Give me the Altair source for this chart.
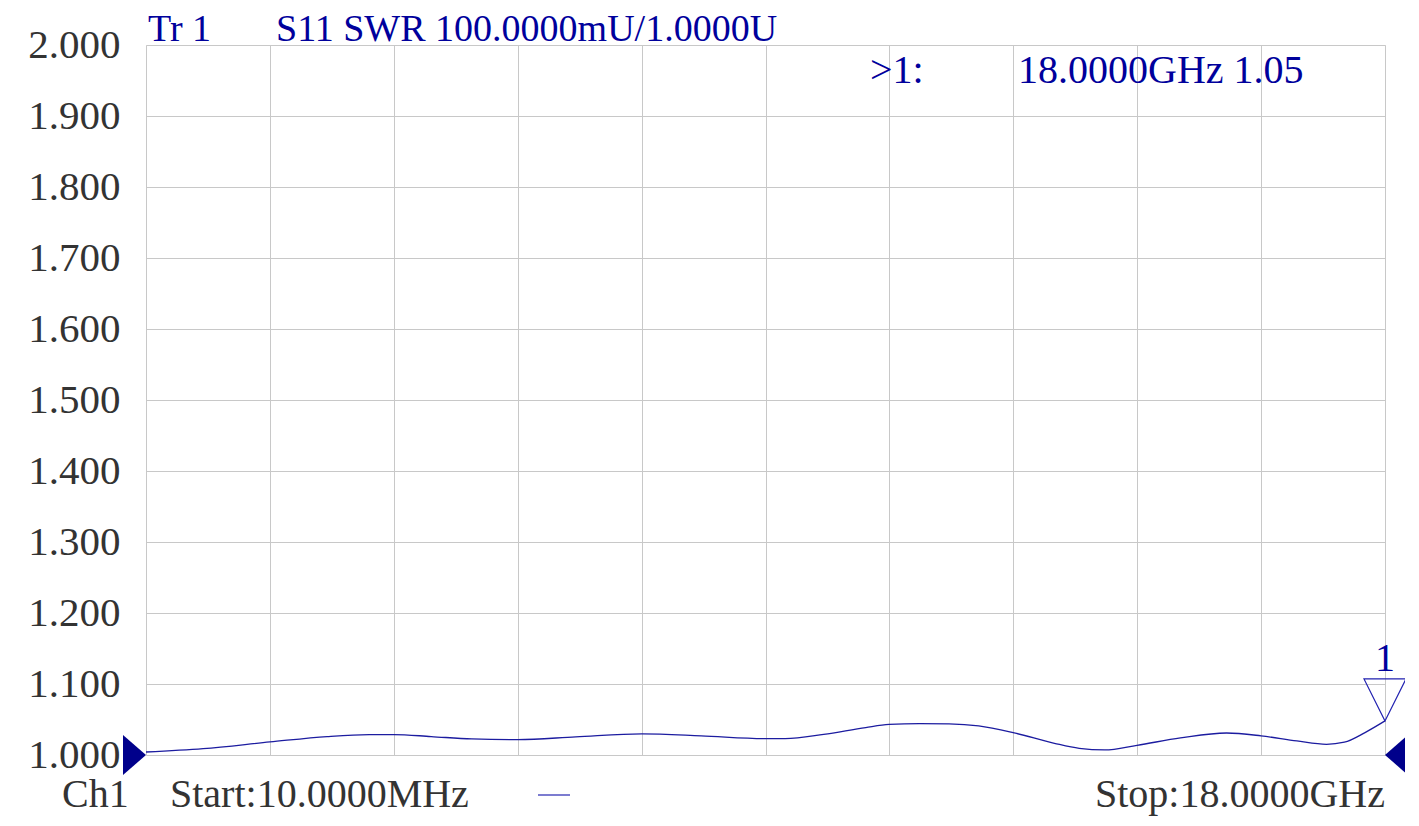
import altair as alt
import pandas as pd

# Trace data (frequency in GHz, SWR)
freq_ghz = [0.01, 0.84, 1.81, 2.64, 3.25, 3.61, 4.15, 4.74, 5.41, 6.25, 7.21, 8.07,
            9.00, 9.29, 9.85, 10.46, 10.80, 11.24, 11.67, 12.10, 12.60, 13.20, 13.56,
            13.93, 14.40, 15.03, 15.70, 16.20, 16.72, 17.15, 17.41, 17.71, 18.00]
swr = [1.0042, 1.0090, 1.0184, 1.0260, 1.0288, 1.0288, 1.0260, 1.0226, 1.0217, 1.0255,
       1.0297, 1.0270, 1.0231, 1.0230, 1.0290, 1.0387, 1.0430, 1.0443, 1.0439, 1.0410,
       1.0316, 1.0165, 1.0094, 1.0071, 1.0137, 1.0240, 1.0310, 1.0270, 1.0198, 1.0151,
       1.0180, 1.0316, 1.0480]

marker_freq = [18.0]
marker_swr = [1.048]
marker_label = ["1"]

ref_pos = [0.01, 18.0]
ref_val = [1.0, 1.0]

y_ticks = [1.0, 1.1, 1.2, 1.3, 1.4, 1.5, 1.6, 1.7, 1.8, 1.9, 2.0]
f_start, f_stop = 0.01, 18.0
x_grid = [f_start + k * (f_stop - f_start) / 10 for k in range(11)]

FONT = "Liberation Serif"
BLUE = "#00009c"
TRACE = "#1c1ca0"
GRAY = "#333333"
W, H = 1239, 710

df = pd.DataFrame({"f": freq_ghz, "swr": swr})
xs = alt.Scale(domain=[f_start, f_stop], nice=False, zero=False)
ys = alt.Scale(domain=[1.0, 2.0], nice=False, zero=False)

x_enc = alt.X("f:Q", scale=xs, axis=alt.Axis(values=x_grid, labels=False, ticks=False,
                                               domain=False, grid=True, gridColor="#c8c8c8",
                                               title=None))
y_enc = alt.Y("swr:Q", scale=ys, axis=alt.Axis(values=y_ticks, format=".3f", ticks=False,
                                                 domain=False, grid=True, gridColor="#c8c8c8",
                                                 labelFont=FONT, labelFontSize=41,
                                                 labelColor=GRAY, labelPadding=26,
                                                 labelBaseline="middle", title=None))

trace = alt.Chart(df).mark_line(color=TRACE, strokeWidth=1.3, interpolate="monotone").encode(
    x=x_enc, y=y_enc)

ref_df = pd.DataFrame({"f": ref_pos, "swr": ref_val, "side": ["L", "R"]})
ref_left = alt.Chart(ref_df[ref_df.side == "L"]).mark_point(
    shape="M0,0L-1,-0.87L-1,0.87Z", size=2116, filled=True, color="#00008b", opacity=1,
    strokeWidth=0).encode(x=alt.X("f:Q", scale=xs), y=alt.Y("swr:Q", scale=ys))
ref_right = alt.Chart(ref_df[ref_df.side == "R"]).mark_point(
    shape="M0,0L1,-0.87L1,0.87Z", size=2116, filled=True, color="#00008b", opacity=1,
    strokeWidth=0).encode(x=alt.X("f:Q", scale=xs), y=alt.Y("swr:Q", scale=ys))

mk_df = pd.DataFrame({"f": marker_freq, "swr": marker_swr, "t": marker_label})
marker = alt.Chart(mk_df).mark_point(
    shape="M0,0L-1,-2L1,-2Z", size=1764, filled=False, color="#2020b0", strokeWidth=1.2,
    opacity=1).encode(x=alt.X("f:Q", scale=xs), y=alt.Y("swr:Q", scale=ys))
marker_txt = alt.Chart(mk_df).mark_text(
    font=FONT, fontSize=40, color=BLUE, dy=-50, baseline="alphabetic", align="center").encode(
    x=alt.X("f:Q", scale=xs), y=alt.Y("swr:Q", scale=ys), text="t:N")


def label(text, x, y, color, align="left", size=40):
    return alt.Chart(pd.DataFrame({"t": [text]})).mark_text(
        font=FONT, fontSize=size, color=color, align=align, baseline="alphabetic").encode(
        x=alt.value(x), y=alt.value(y), text="t:N")


texts = [
    label("Tr 1", 2, -4, BLUE, size=38),
    label("S11 SWR 100.0000mU/1.0000U", 130, -4, BLUE, size=38),
    label(">1:", 724, 38, BLUE),
    label("18.0000GHz 1.05", 872, 38, BLUE),
    label("Ch1", -84, 762, GRAY),
    label("Start:10.0000MHz", 24, 762, GRAY),
    label("Stop:18.0000GHz", W, 762, GRAY, align="right"),
]
dash = alt.Chart(pd.DataFrame({"a": [0]})).mark_rule(color="#5050c0", strokeWidth=1.5).encode(
    x=alt.value(392), x2=alt.value(424), y=alt.value(750))

chart = alt.layer(trace, ref_left, ref_right, marker, marker_txt, dash, *texts).properties(
    width=W, height=H,
    autosize=alt.AutoSizeParams(type="none"),
    padding={"left": 138, "top": 37, "right": 20, "bottom": 63},
).configure_view(stroke="#a0a0a0", strokeWidth=1).configure(background="white")

chart.save("out.html", embed_options={"renderer": "svg", "actions": False})
